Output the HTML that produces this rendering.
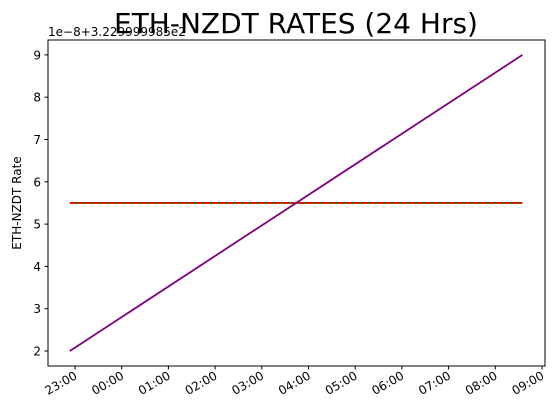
<!DOCTYPE html>
<html><head><meta charset="utf-8"><style>
body{margin:0;background:#fff;}
svg{display:block;font-family:"DejaVu Sans","Liberation Sans",sans-serif;}
</style></head><body>
<svg id="chart" width="557" height="418" viewBox="0 0 557 418" xmlns="http://www.w3.org/2000/svg">
<rect width="557" height="418" fill="#fff"/>
<text x="296" y="33" font-size="28" text-anchor="middle">ETH-NZDT RATES (24 Hrs)</text>
<text x="48" y="36" font-size="12">1e−8+3.229999985e2</text>
<text transform="translate(21,203) rotate(-90)" font-size="12" text-anchor="middle">ETH-NZDT Rate</text>
<g id="ticks"></g>
<g id="series"></g>
<rect x="48" y="40" width="497" height="326" fill="none" stroke="#000" stroke-width="1"/>
</svg>
<script>
// times in hours since 22:00
const times = [0.89, 10.58];
const rateValues = [2, 9];
const meanValues = [5.5, 5.5];
const yTicks = [2, 3, 4, 5, 6, 7, 8, 9];
const xTickHours = [1, 2, 3, 4, 5, 6, 7, 8, 9, 10, 11];
const xTickLabels = ["23:00","00:00","01:00","02:00","03:00","04:00","05:00","06:00","07:00","08:00","09:00"];

const NS = "http://www.w3.org/2000/svg";
const xS = h => 75 + (h - 1) * 46.7;
const yS = v => 351 - (v - 2) * 42.3;
function mk(tag, attrs, parent) {
  const e = document.createElementNS(NS, tag);
  for (const k in attrs) e.setAttribute(k, attrs[k]);
  parent.appendChild(e);
  return e;
}
const tg = document.getElementById('ticks');
yTicks.forEach(v => {
  const l = mk('line', {x1: 44.5, x2: 48, y1: yS(v), y2: yS(v), stroke: '#000'}, tg);
  
  
  const t = mk('text', {x: 41, y: yS(v) + 4.5, 'font-size': 12, 'text-anchor': 'end'}, tg);
  t.textContent = v;
  
  
});
xTickHours.forEach((h, i) => {
  const x = xS(h);
  const l = mk('line', {x1: x, x2: x, y1: 366, y2: 369.5, stroke: '#000'}, tg);
  
  
  const t = mk('text', {x: x + 3, y: 378, 'font-size': 12, 'text-anchor': 'end', transform: `rotate(-30 ${x + 3} 378)`}, tg);
  t.textContent = xTickLabels[i];
  
  
});
const sg = document.getElementById('series');
const pts = arr => arr.map((v, i) => xS(times[i]) + ',' + yS(v)).join(' ');
const g1 = mk('polyline', {points: pts(meanValues), fill: 'none', stroke: 'green', 'stroke-width': 1.8}, sg);


const r1 = mk('polyline', {points: pts(meanValues), fill: 'none', stroke: 'red', 'stroke-width': 1.8, 'stroke-dasharray': '5.5 2.4'}, sg);


const p1 = mk('polyline', {points: pts(rateValues), fill: 'none', stroke: 'purple', 'stroke-width': 1.8}, sg);


</script>
</body></html>
